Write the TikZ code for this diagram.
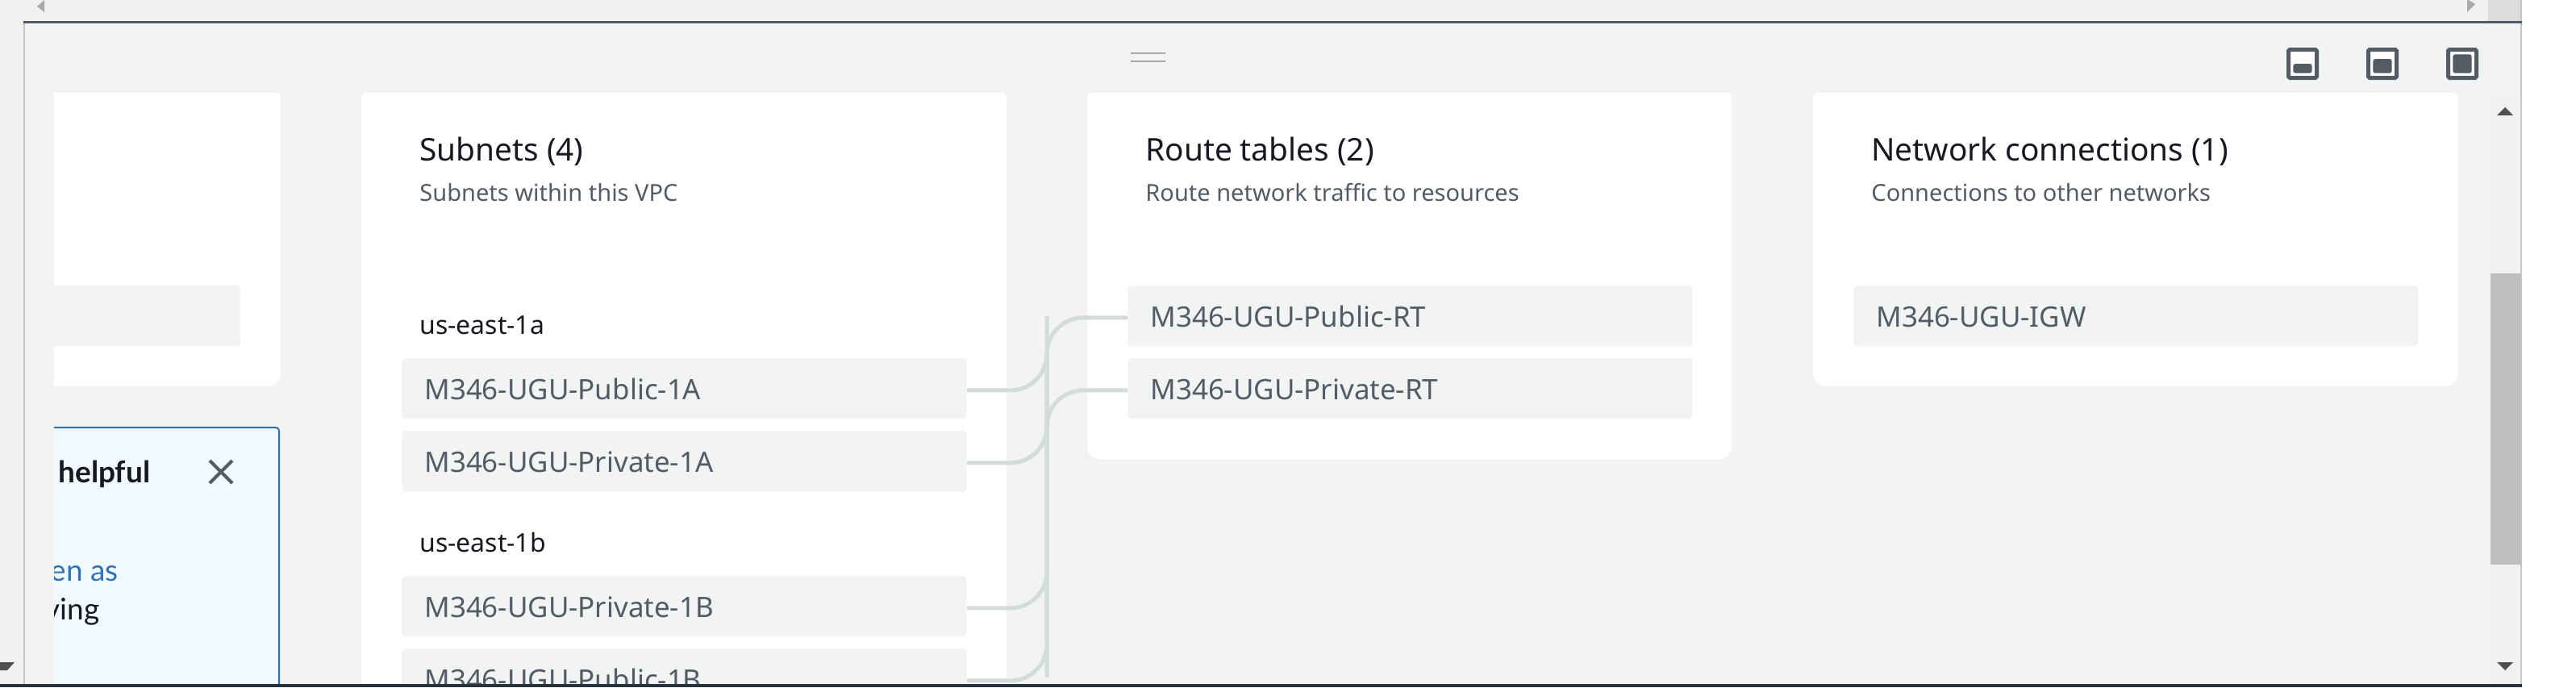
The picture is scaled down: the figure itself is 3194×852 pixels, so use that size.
\documentclass[tikz,border=0pt]{standalone}
\usepackage{fontspec}
\setmainfont{Noto Sans}
\newfontfamily\helpfont{Lato}
\usetikzlibrary{calc}
\definecolor{pagebg}{HTML}{F2F3F3}
\definecolor{barbg}{HTML}{F1F1F1}
\definecolor{edge}{HTML}{C4C6C6}
\definecolor{darkline}{HTML}{545B64}
\definecolor{botline}{HTML}{2A333E}
\definecolor{thumb}{HTML}{BEBEBE}
\definecolor{corner}{HTML}{DCDCDC}
\definecolor{linkc}{HTML}{D5DBDB}
\definecolor{ink}{HTML}{16191F}
\definecolor{sub}{HTML}{545B64}
\definecolor{infobg}{HTML}{F1FAFF}
\definecolor{infoblue}{HTML}{2E73B8}
\definecolor{arrowd}{HTML}{505050}
\definecolor{arrowl}{HTML}{A9A9A9}
\tikzset{
  px/.style={x=0.5pt,y=-0.5pt},
  cardbox/.style={fill=white,draw=none,rounded corners=8pt},
  itembox/.style={fill=pagebg,rounded corners=2pt,anchor=north west,inner xsep=14pt,inner ysep=0pt,
    text width=322pt,align=left,text height=25.5pt,text depth=12pt,text=sub,font=\fontsize{17.45pt}{20pt}\selectfont},
  headtxt/.style={anchor=base west,inner sep=0pt,text=ink,font=\fontsize{19.4pt}{22pt}\selectfont},
  subtxt/.style={anchor=base west,inner sep=0pt,text=sub,font=\fontsize{14.5pt}{17pt}\selectfont},
  zonetxt/.style={anchor=base west,inner sep=0pt,text=ink,font=\fontsize{16pt}{18pt}\selectfont},
  infotxt/.style={anchor=base east,inner sep=0pt,font=\helpfont\fontsize{18.5pt}{20pt}\selectfont},
  link/.style={draw=linkc,line width=2.5pt,rounded corners=22.5pt},
  winicon/.style={draw=darkline,line width=2.5pt,fill=white,rounded corners=0.8pt},
  wininner/.style={fill=darkline,rounded corners=1.5pt},
}
\begin{document}
\begin{tikzpicture}[px]
\useasboundingbox (0,0) rectangle (3194,852);
\clip (0,0) rectangle (3194,852);
% backgrounds
\fill[white] (0,0) rectangle (3194,852);
\fill[barbg] (0,0) rectangle (3127,852);
\fill[pagebg] (31,29) rectangle (3085,848);
\fill[corner] (3085,0) rectangle (3125,26);
\fill[thumb] (3088,339) rectangle (3125,700);
\fill[pagebg] (3085,29) rectangle (3125,116);
% edges
\fill[edge] (29,29) rectangle (31,848);
\fill[edge] (3125,0) rectangle (3127,848);
\fill[darkline] (29,26) rectangle (3127,29);
% scroll arrows
\fill[arrowl] (46,8) -- (55,0) -- (55,15) -- cycle;
\fill[arrowl] (3069,5) -- (3059,-1) -- (3059,15) -- cycle;
\fill[arrowd] (3096,143) -- (3116,143) -- (3106,133) -- cycle;
\fill[arrowd] (3096,821) -- (3116,821) -- (3106,831) -- cycle;
\fill[arrowd] (0,821) -- (18,821) -- (9,831) -- (0,831) -- cycle;
% drag handle
\draw[draw=arrowl,line width=0.7pt] (1402,66) -- (1445,66);
\draw[draw=arrowl,line width=1.2pt] (1402,76) -- (1445,76);
% window icons
\draw[winicon] (2837.5,61.5) rectangle (2872.5,96.5);
\fill[wininner] (2843.3,79) rectangle (2866.7,90.7);
\draw[winicon] (2936.5,61.5) rectangle (2971.5,96.5);
\fill[wininner] (2942.3,73) rectangle (2965.7,90.7);
\draw[winicon] (3035.5,61.5) rectangle (3070.5,96.5);
\fill[wininner] (3041.3,67.3) rectangle (3064.7,90.7);
% clipped content
\begin{scope}
\clip (67,115) rectangle (3085,848);
\fill[cardbox] (0,108) rectangle (348,479);
\fill[cardbox] (448,108) rectangle (1248,900);
\fill[cardbox] (1348,108) rectangle (2147,569);
\fill[cardbox] (2248,108) rectangle (3048,479);
\fill[pagebg,rounded corners=2pt] (0,354) rectangle (298,429);
% info panel
\draw[draw=infoblue,fill=infobg,line width=1pt,rounded corners=2pt] (0,530) rectangle (346,900);
\node[anchor=base west,inner sep=0pt,text=ink,font=\helpfont\fontsize{18.5pt}{20pt}\selectfont\bfseries] (helpful) at (72,598) {helpful};
\node[infotxt,text=infoblue] (enas) at (147,720) {en as};
\node[infotxt,text=ink] (ving) at (124,768) {ving};
\draw[draw=darkline,line width=2pt] (260,571) -- (288,599) (288,571) -- (260,599);
% subnets
\node[headtxt] (subh) at (520,199) {Subnets (4)};
\node[subtxt] (subs) at (520,249) {Subnets within this VPC};
\node[zonetxt] (za) at (520,414) {us-east-1a};
\node[itembox] (s1) at (498,444) {M346-UGU-Public-1A};
\node[itembox] (s2) at (498,534) {M346-UGU-Private-1A};
\node[zonetxt] (zb) at (520,684) {us-east-1b};
\node[itembox] (s3) at (498,714) {M346-UGU-Private-1B};
\node[itembox] (s4) at (498,804) {M346-UGU-Public-1B};
% route tables
\node[headtxt] (rth) at (1420,199) {Route tables (2)};
\node[subtxt] (rts) at (1420,249) {Route network traffic to resources};
\node[itembox] (r1) at (1398,354) {M346-UGU-Public-RT};
\node[itembox] (r2) at (1398,444) {M346-UGU-Private-RT};
% network connections
\node[headtxt] (nch) at (2320,199) {Network connections (1)};
\node[subtxt] (ncs) at (2320,249) {Connections to other networks};
\node[itembox] (n1) at (2298,354) {M346-UGU-IGW};
% connectors
\coordinate (bustop) at (1298,437);
\coordinate (busbot) at (1298,795);
\draw[link] ([yshift=-1pt]r1.west) -| (bustop) -- (busbot) |- ([yshift=-1pt]s4.east);
\draw[link] ([yshift=-1pt]r2.west) -| (busbot);
\draw[link] ([yshift=-1pt]s1.east) -| (bustop);
\draw[link] ([yshift=-1pt]s2.east) -| (bustop);
\draw[link] ([yshift=-1pt]s3.east) -| (bustop);
\end{scope}
\fill[botline] (0,848) rectangle (3127,852);
\end{tikzpicture}
\end{document}
